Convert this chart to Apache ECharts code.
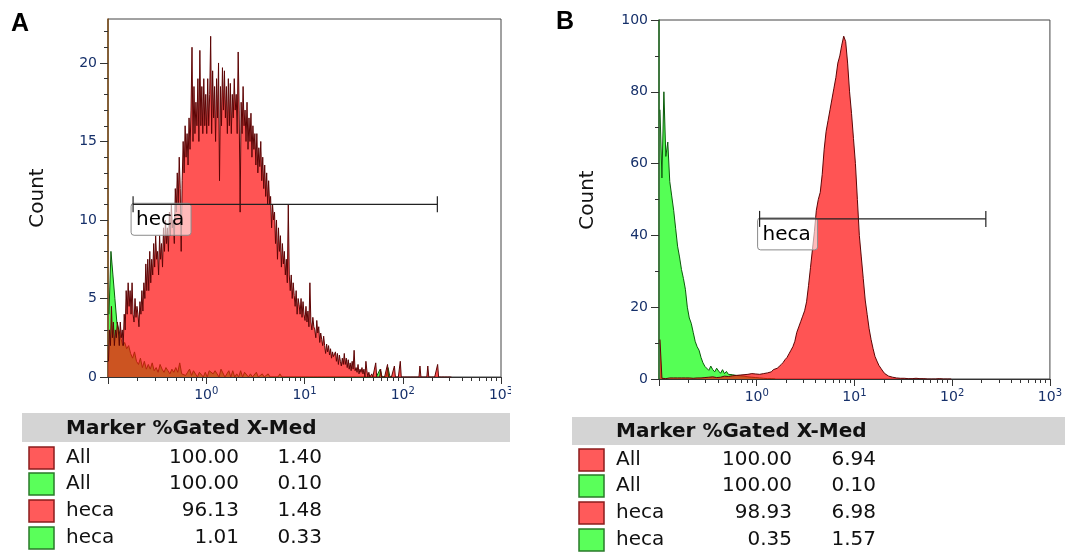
<!DOCTYPE html>
<html>
<head>
<meta charset="utf-8">
<script src="https://cdn.jsdelivr.net/npm/echarts@6/dist/echarts.min.js"></script>
<style>
html,body{margin:0;padding:0;background:#fff;}
#main{width:1065px;height:553px;}
</style>
</head>
<body>
<div id="main"></div>
<script>
// histogram bins start at 10^-1; redA uses 100 bins per decade, the others 50
var logStart = -1;

// panel A counts (red = sample, green = control)
var redA = [
  1, 3, 2, 4.5, 2.5, 3.5, 2, 3, 2.5, 3.5,
  3, 2, 3.5, 2.5, 3, 2, 4, 3, 5.5, 4,
  6, 4.5, 5.5, 4, 6, 4, 3.5, 5, 3.8, 4.5,
  4, 3.2, 4.8, 4, 5.5, 4.2, 6, 5, 7.2, 5.5,
  7.5, 5.5, 8, 6, 7.5, 6.5, 8.5, 7, 9, 7.5,
  8, 6.5, 9, 7.5, 8.5, 7, 9.5, 8, 10, 8.5,
  9.5, 8, 10.5, 9, 11, 9.5, 10, 8.5, 12, 10.5,
  13, 11, 14, 12, 8, 12.5, 15, 13, 16, 14,
  15.5, 13.5, 16.5, 14.5, 17, 21, 15, 18.5, 15.5, 17.5,
  16, 19, 15, 20.8, 16, 18.5, 15.5, 19, 16, 18,
  15.5, 19, 16, 18, 21.7, 15.5, 19.5, 16.5, 18.5, 15,
  19, 16.5, 20, 12.5, 18.5, 16, 19.7, 17, 19.5, 16.5,
  18.5, 15.5, 19, 16, 18.7, 15.5, 18, 16.5, 19, 17,
  18, 15.5, 20.7, 17, 10.5, 17.5, 15.5, 18.5, 16, 17,
  15, 17.5, 14.5, 16.5, 15, 16.8, 14, 16, 14.5, 15.5,
  13.5, 15.5, 13, 14.6, 13.4, 15, 12.5, 14, 12, 13.5,
  11.5, 13, 11, 12.5, 11, 11.5, 9.5, 11, 10, 10.5,
  8.5, 10, 7.5, 9.5, 8, 9, 7, 8.5, 7.2, 8,
  6.5, 7.5, 6, 11, 6.5, 5.5, 6.5, 5, 6, 5.2,
  4.5, 5.5, 4, 5, 4.6, 4, 5, 3.8, 4.8, 4,
  3.6, 4.5, 3.5, 4.2, 3.2, 6, 3.5, 3, 3.8, 3.2,
  3, 2.5, 3.6, 2.8, 3.2, 2.2, 2.8, 2.4, 2, 2.6,
  2, 1.5, 2.1, 1.6, 2, 1.4, 1.8, 1.2, 1.6, 1.3,
  1.2, 1.6, 1, 1.5, 0.8, 1.4, 1, 0.7, 1.2, 0.8,
  1.5, 0.8, 1.2, 0.6, 1.1, 0.5, 0.9, 0.4, 1, 0.5,
  1.7, 0.4, 0.6, 0.3, 0.8, 0.2, 0.5, 0.3, 0.6, 0.2,
  0.5, 0, 1, 0.4, 0, 0.3, 0, 0, 0.2, 0,
  0, 0, 0.9, 0, 0, 0, 0, 0.5, 0, 0,
  0, 0, 0, 0, 0.8, 0, 0, 0, 0, 0,
  0, 0.7, 0, 0, 0, 0, 0, 1, 0, 0,
  0, 0, 0, 0, 0, 0, 0, 0, 0, 0,
  0, 0, 0, 0, 0, 0, 0, 0.7, 0, 0,
  0, 0, 0, 0, 0, 0.7, 0, 0, 0, 0,
  0, 0, 0, 0, 0, 0.8, 0, 0, 0, 0,
  0, 0, 0, 0, 0, 0, 0, 0, 0, 0
];
var greenA = [
  4, 8, 6.5, 5, 3.5,  3, 2.5, 2, 2.2, 1.8,
  2, 1.5, 1.2, 1.6, 1,  0.8, 1.2, 0.6, 1, 0.5,
  0.8, 0.5, 0.9, 0.4, 0.6,  0.3, 0.8, 0.5, 0.3, 0.6,
  0.4, 0.2, 0.5, 0.3, 0.6,  0.3, 0.9, 0.2, 0.3, 0.1,
  0.3, 0.5, 0.1, 0.4, 0.2,  0, 0.3, 0.4, 0, 0.3,
  0, 0.4, 0.3, 0.2, 0.4,  0.3, 0, 0.5, 0.4, 0,
  0.2, 0.4, 0, 0.4, 0,  0.2, 0, 0.4, 0, 0.3,
  0.4, 0, 0.2, 0, 0,  0.3, 0, 0, 0.2, 0,
  0, 0.2, 0, 0, 0,  0, 0, 0.2, 0, 0,
  0, 0, 0, 0, 0,  0, 0, 0, 0, 0,
  0, 0, 0, 0, 0,  0, 0, 0, 0, 0,
  0, 0, 0, 0, 0,  0, 0, 0, 0, 0,
  0, 0, 0, 0, 0,  0, 0, 0, 0, 0,
  0, 0, 0, 0, 0,  0, 0, 0, 0.5, 0,
  0, 0, 0.6, 0, 0
];

// panel B counts
var redB = [
  11, 0.2, 0.2, 0.1, 0.2, 0.3, 0.2, 0.3, 0.2, 0.3,
  0.2, 0.3, 0.4, 0.3, 0.5, 0.3, 0.4, 0.2, 0.4, 0.3,
  0.5, 0.3, 0.6, 0.4, 0.3, 0.5, 0.4, 0.6, 0.5, 0.4,
  0.7, 0.5, 0.6, 0.8, 0.5, 0.7, 0.6, 0.9, 0.7, 1.0,
  0.8, 1.1, 0.9, 1.2, 1.0, 1.3, 1.2, 1.5, 1.2, 1.4,
  1.6, 1.3, 1.8, 1.5, 2.0, 1.7, 2.2, 2.0, 2.6, 2.4,
  3.0, 3.4, 4.0, 4.6, 5.4, 6.0, 7.0, 8.0, 9.0, 10.5,
  13, 14.5, 16, 17.5, 19, 21.5, 26, 31, 36, 41,
  47, 50, 52, 57, 64, 69, 72, 75, 78, 81,
  84, 88, 90, 93, 95.5, 94, 88, 80, 74, 67,
  60, 50, 40, 34, 28, 22, 18, 14, 11, 8.5,
  6.3, 5, 3.8, 3, 2.2, 1.5, 1.1, 0.8, 0.6, 0.5,
  0.4, 0.3, 0.3, 0.2, 0.3, 0.2, 0.2, 0.1, 0.2, 0.1,
  0.1, 0.2, 0.1, 0.1, 0, 0.1, 0.1, 0, 0.1, 0,
  0.1, 0, 0, 0.1, 0, 0, 0, 0, 0, 0
];
var greenB = [
  75, 56, 80, 62, 66, 55, 51, 47, 42, 37,
  34, 30.5, 28, 25, 20, 17, 15.5, 13, 10.5, 9,
  8, 6, 4.5, 3.5, 3, 2.4, 3.6, 2.6, 2, 3,
  2.2, 1.6, 2.6, 1.5, 2.1, 1.3, 1.8, 1.2, 1.5, 1,
  1.4, 0.9, 1.2, 0.8, 1, 0.6, 0.9, 0.5, 0.6, 0.4,
  0.5, 0.3, 0.4, 0.2, 0.3, 0.1, 0.2, 0.1, 0, 0
];

// gate markers: [from, to, count level]
var markerA = [0.18, 225, 11];
var markerB = [1.07, 221, 44.6];
var markerName = 'heca';

// statistics tables
var tableHeader = 'Marker %Gated X-Med';
var rowMarkers = ['All', 'All', 'heca', 'heca'];
var rowColors = ['red', 'green', 'red', 'green'];
var gatedA = ['100.00', '100.00', '96.13', '1.01'];
var medA = ['1.40', '0.10', '1.48', '0.33'];
var gatedB = ['100.00', '100.00', '98.93', '0.35'];
var medB = ['6.94', '0.10', '6.98', '1.57'];

// axis ticks
var xMajor = [0, 1, 2, 3];
var yMajorA = [0, 5, 10, 15, 20];
var yMajorB = [0, 20, 40, 60, 80, 100];

var xMinor = [];
[-1, 0, 1, 2].forEach(function (d) {
    for (var k = 2; k <= 9; k++) xMinor.push(d + Math.log10(k));
});
var yMinorA = [];
for (var i = 0; i <= 22; i++) yMinorA.push(i);
var yMinorB = [];
for (var j = 0; j <= 100; j += 10) yMinorB.push(j);

var labelColor = '#16306a';
var axisColor = '#333';
var fontFam = 'DejaVu Sans';

function toXY(arr, perDecade) {
    return arr.map(function (v, i) {
        return [logStart + (i + 0.5) / perDecade, v];
    });
}

function xAxisPair(grid) {
    return [{
        type: 'value', gridIndex: grid, min: -1, max: 3, position: 'bottom',
        axisLine: { show: true, onZero: false, lineStyle: { color: axisColor, width: 1 } },
        axisTick: { show: true, length: 7, customValues: [-1].concat(xMajor), lineStyle: { color: axisColor } },
        axisLabel: {
            customValues: xMajor, color: labelColor, fontFamily: fontFam, margin: 9,
            formatter: function (v) { return '{b|10}{s|' + v + '}'; },
            rich: {
                b: { fontSize: 14, lineHeight: 18, color: labelColor, fontFamily: fontFam },
                s: { fontSize: 10, lineHeight: 10, verticalAlign: 'top', color: labelColor, fontFamily: fontFam }
            }
        },
        splitLine: { show: false }
    }, {
        type: 'value', gridIndex: grid, min: -1, max: 3, position: 'bottom',
        axisLine: { show: false, onZero: false },
        axisTick: { show: true, length: 4, customValues: xMinor, lineStyle: { color: axisColor } },
        axisLabel: { show: false },
        splitLine: { show: false }
    }];
}

function yAxisPair(grid, max, major, minor, lineColor) {
    return [{
        type: 'value', gridIndex: grid, min: 0, max: max, position: 'left',
        axisLine: { show: true, onZero: false, lineStyle: { color: lineColor, width: 1.5 } },
        axisTick: { show: true, length: 8, customValues: major, lineStyle: { color: axisColor } },
        axisLabel: { customValues: major, color: labelColor, fontSize: 14, fontFamily: fontFam, margin: 11 },
        splitLine: { show: false }
    }, {
        type: 'value', gridIndex: grid, min: 0, max: max, position: 'left',
        axisLine: { show: false, onZero: false },
        axisTick: { show: true, length: 4, customValues: minor, lineStyle: { color: axisColor } },
        axisLabel: { show: false },
        splitLine: { show: false }
    }];
}

function histSeries(xi, yi, data, perDecade, lineColor, fill, z) {
    return {
        type: 'line', xAxisIndex: xi, yAxisIndex: yi, data: toXY(data, perDecade),
        symbol: 'none', silent: true, z: z,
        lineStyle: { color: lineColor, width: 1 },
        areaStyle: { color: fill, opacity: 1 }
    };
}

function renderMarker(params, api) {
    var p1 = api.coord([api.value(0), api.value(2)]);
    var p2 = api.coord([api.value(1), api.value(2)]);
    var ls = { stroke: '#222', lineWidth: 1.2 };
    return {
        type: 'group',
        children: [
            { type: 'rect', shape: { x: p1[0] - 2, y: p1[1] - 1, width: 60, height: 32, r: 3 },
              style: { fill: 'rgba(255,255,255,0.6)', stroke: '#8a8a8a', lineWidth: 1 } },
            { type: 'text', style: { text: markerName, x: p1[0] + 3, y: p1[1] + 16, font: '20px ' + fontFam,
              fill: '#000', verticalAlign: 'middle' } },
            { type: 'line', shape: { x1: p1[0], y1: p1[1], x2: p2[0], y2: p2[1] }, style: ls },
            { type: 'line', shape: { x1: p1[0], y1: p1[1] - 8, x2: p1[0], y2: p1[1] + 8 }, style: ls },
            { type: 'line', shape: { x1: p2[0], y1: p2[1] - 8, x2: p2[0], y2: p2[1] + 8 }, style: ls }
        ]
    };
}

function markerSeries(xi, yi, m) {
    return {
        type: 'custom', xAxisIndex: xi, yAxisIndex: yi, z: 10, silent: true, clip: false,
        data: [[Math.log10(m[0]), Math.log10(m[1]), m[2]]],
        renderItem: renderMarker
    };
}

function table(cfg, gated, med) {
    var els = [];
    els.push({ type: 'rect', shape: { x: cfg.x0, y: cfg.headTop, width: cfg.headW, height: cfg.headH },
        style: { fill: '#d4d4d4' } });
    els.push({ type: 'text', style: { text: tableHeader, x: cfg.nameX, y: cfg.headTop + cfg.headH / 2 + 1,
        font: 'bold 20px ' + fontFam, fill: '#111', verticalAlign: 'middle' } });
    for (var r = 0; r < rowMarkers.length; r++) {
        var y = cfg.rows[r];
        var red = rowColors[r] === 'red';
        els.push({ type: 'rect', shape: { x: cfg.sqX, y: y - 11, width: 25, height: 22 },
            style: { fill: red ? '#ff5a5a' : '#5aff5a', stroke: red ? '#8b1c1c' : '#2a7a2a', lineWidth: 1.5 } });
        els.push({ type: 'text', style: { text: rowMarkers[r], x: cfg.nameX, y: y, font: '20px ' + fontFam,
            fill: '#111', verticalAlign: 'middle' } });
        els.push({ type: 'text', style: { text: gated[r], x: cfg.gatedR, y: y, font: '20px ' + fontFam,
            fill: '#111', align: 'right', verticalAlign: 'middle' } });
        els.push({ type: 'text', style: { text: med[r], x: cfg.medR, y: y, font: '20px ' + fontFam,
            fill: '#111', align: 'right', verticalAlign: 'middle' } });
    }
    return els;
}

var chart = echarts.init(document.getElementById('main'));

var graphics = [
    { type: 'text', x: 11, y: 24, style: { text: 'A', font: 'bold 25px Liberation Sans', fill: '#000', verticalAlign: 'middle' } },
    { type: 'text', x: 556, y: 22, style: { text: 'B', font: 'bold 25px Liberation Sans', fill: '#000', verticalAlign: 'middle' } },
    { type: 'text', x: 38, y: 198, rotation: Math.PI / 2,
      style: { text: 'Count', font: '20px ' + fontFam, fill: '#111', align: 'center', verticalAlign: 'middle' } },
    { type: 'text', x: 588, y: 200, rotation: Math.PI / 2,
      style: { text: 'Count', font: '20px ' + fontFam, fill: '#111', align: 'center', verticalAlign: 'middle' } },
    { type: 'rect', shape: { x: 511, y: 382, width: 30, height: 28 }, style: { fill: '#fff' }, z: 100 }
].concat(
    table({ x0: 22, headTop: 413, headW: 488, headH: 29, nameX: 66, sqX: 29,
            rows: [458, 484, 511, 538], gatedR: 239, medR: 322 }, gatedA, medA),
    table({ x0: 572, headTop: 417, headW: 493, headH: 28, nameX: 616, sqX: 579,
            rows: [460, 486, 513, 540], gatedR: 792, medR: 876 }, gatedB, medB)
);

var option = {
    backgroundColor: '#fff',
    animation: false,
    grid: [
        { left: 108, top: 19, width: 393, height: 358, show: true, borderColor: '#444', borderWidth: 1 },
        { left: 659, top: 20, width: 398, height: 359, show: true, borderColor: '#444', borderWidth: 1 }
    ],
    xAxis: xAxisPair(0).concat(xAxisPair(1)),
    yAxis: yAxisPair(0, 22.8, yMajorA, yMinorA, '#7a4a14').concat(yAxisPair(1, 100, yMajorB, yMinorB, '#1f6a1f')),
    series: [
        histSeries(0, 0, greenA, 50, '#0b5a0b', '#55ff55', 2),
        histSeries(0, 0, redA, 100, '#5c0505', 'rgba(255,12,12,0.7)', 3),
        markerSeries(0, 0, markerA),
        histSeries(2, 2, greenB, 50, '#0b5a0b', '#55ff55', 2),
        histSeries(2, 2, redB, 50, '#5c0505', 'rgba(255,12,12,0.7)', 3),
        markerSeries(2, 2, markerB)
    ],
    graphic: graphics
};

chart.setOption(option);
</script>
</body>
</html>
